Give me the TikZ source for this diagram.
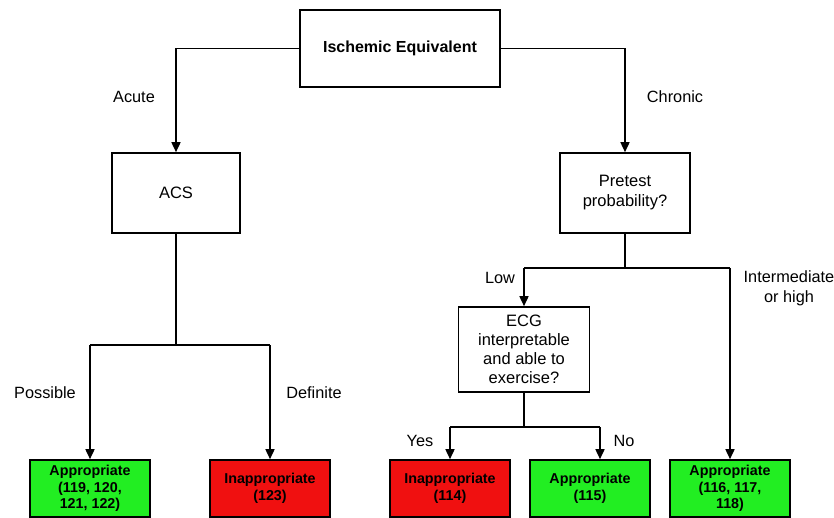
\documentclass[tikz,border=0pt]{standalone}
\usepackage{fontspec}
\setmainfont{Liberation Sans}
\usetikzlibrary{arrows.meta}
\definecolor{okgreen}{HTML}{22EE22}
\definecolor{badred}{HTML}{F01010}
\begin{document}
\begin{tikzpicture}[x=1pt,y=-1pt,
  box/.style={draw,line width=1.6pt,align=center,inner sep=2pt,font=\fontsize{16.5}{20}\selectfont},
  leaf/.style={draw,line width=1.6pt,align=center,inner sep=1pt,minimum width=120pt,minimum height=57pt,font=\bfseries\fontsize{14.3}{16.5}\selectfont},
  conn/.style={line width=1.6pt},
  arr/.style={line width=1.6pt,-{Triangle[width=9pt,length=10pt]}},
  lbl/.style={font=\fontsize{16.3}{20}\selectfont,align=center}]
\useasboundingbox (0,0) rectangle (834,518);
\node[box,minimum width=200pt,minimum height=77pt,font=\bfseries\fontsize{16}{19}\selectfont] (top) at (400,48.5) {Ischemic Equivalent};
\node[box,minimum width=128pt,minimum height=80pt] (acs) at (176,193) {ACS};
\node[box,minimum width=130pt,minimum height=80pt] (pre) at (625,193) {Pretest\\probability?};
\node[box,minimum width=131pt,minimum height=85pt,font=\fontsize{16.5}{19}\selectfont] (ecg) at (524,349.5) {ECG\\interpretable\\and able to\\exercise?};
\node[leaf,fill=okgreen] (b1) at (90,488.5) {Appropriate\\(119, 120,\\121, 122)};
\node[leaf,fill=badred] (b2) at (270,488.5) {Inappropriate\\(123)};
\node[leaf,fill=badred] (b3) at (450,488.5) {Inappropriate\\(114)};
\node[leaf,fill=okgreen] (b4) at (590,488.5) {Appropriate\\(115)};
\node[leaf,fill=okgreen] (b5) at (730,488.5) {Appropriate\\(116, 117,\\118)};
\coordinate (j1) at (176,345);
\coordinate (j1l) at (90,345);
\coordinate (j1r) at (270,345);
\coordinate (j2) at (625,268);
\coordinate (j2l) at (524,268);
\coordinate (j2r) at (730,268);
\coordinate (j3) at (524,427);
\coordinate (j3l) at (450,427);
\coordinate (j3r) at (600,427);
\draw[arr] (top.west) -| (acs.north);
\draw[arr] (top.east) -| (pre.north);
\draw[conn] (acs.south) -- (j1);
\draw[conn] (j1l) -- (j1r);
\draw[arr] (j1l) -- (b1.north);
\draw[arr] (j1r) -- (b2.north);
\draw[conn] (pre.south) -- (j2);
\draw[conn] (j2l) -- (j2r);
\draw[arr] (j2l) -- (ecg.north);
\draw[arr] (j2r) -- (b5.north);
\draw[conn] (ecg.south) -- (j3);
\draw[conn] (j3l) -- (j3r);
\draw[arr] (j3l) -- (b3.north);
\draw[arr] (j3r) -- (j3r |- b4.north);
\node[lbl] (la) at (134,97) {Acute};
\node[lbl] (lc) at (675,97) {Chronic};
\node[lbl] (ll) at (500,278) {Low};
\node[lbl] (li) at (789,288) {Intermediate\\or high};
\node[lbl] (lp) at (45,393) {Possible};
\node[lbl] (ld) at (314,393) {Definite};
\node[lbl] (ly) at (420,441) {Yes};
\node[lbl] (ln) at (624,441) {No};
\end{tikzpicture}
\end{document}
